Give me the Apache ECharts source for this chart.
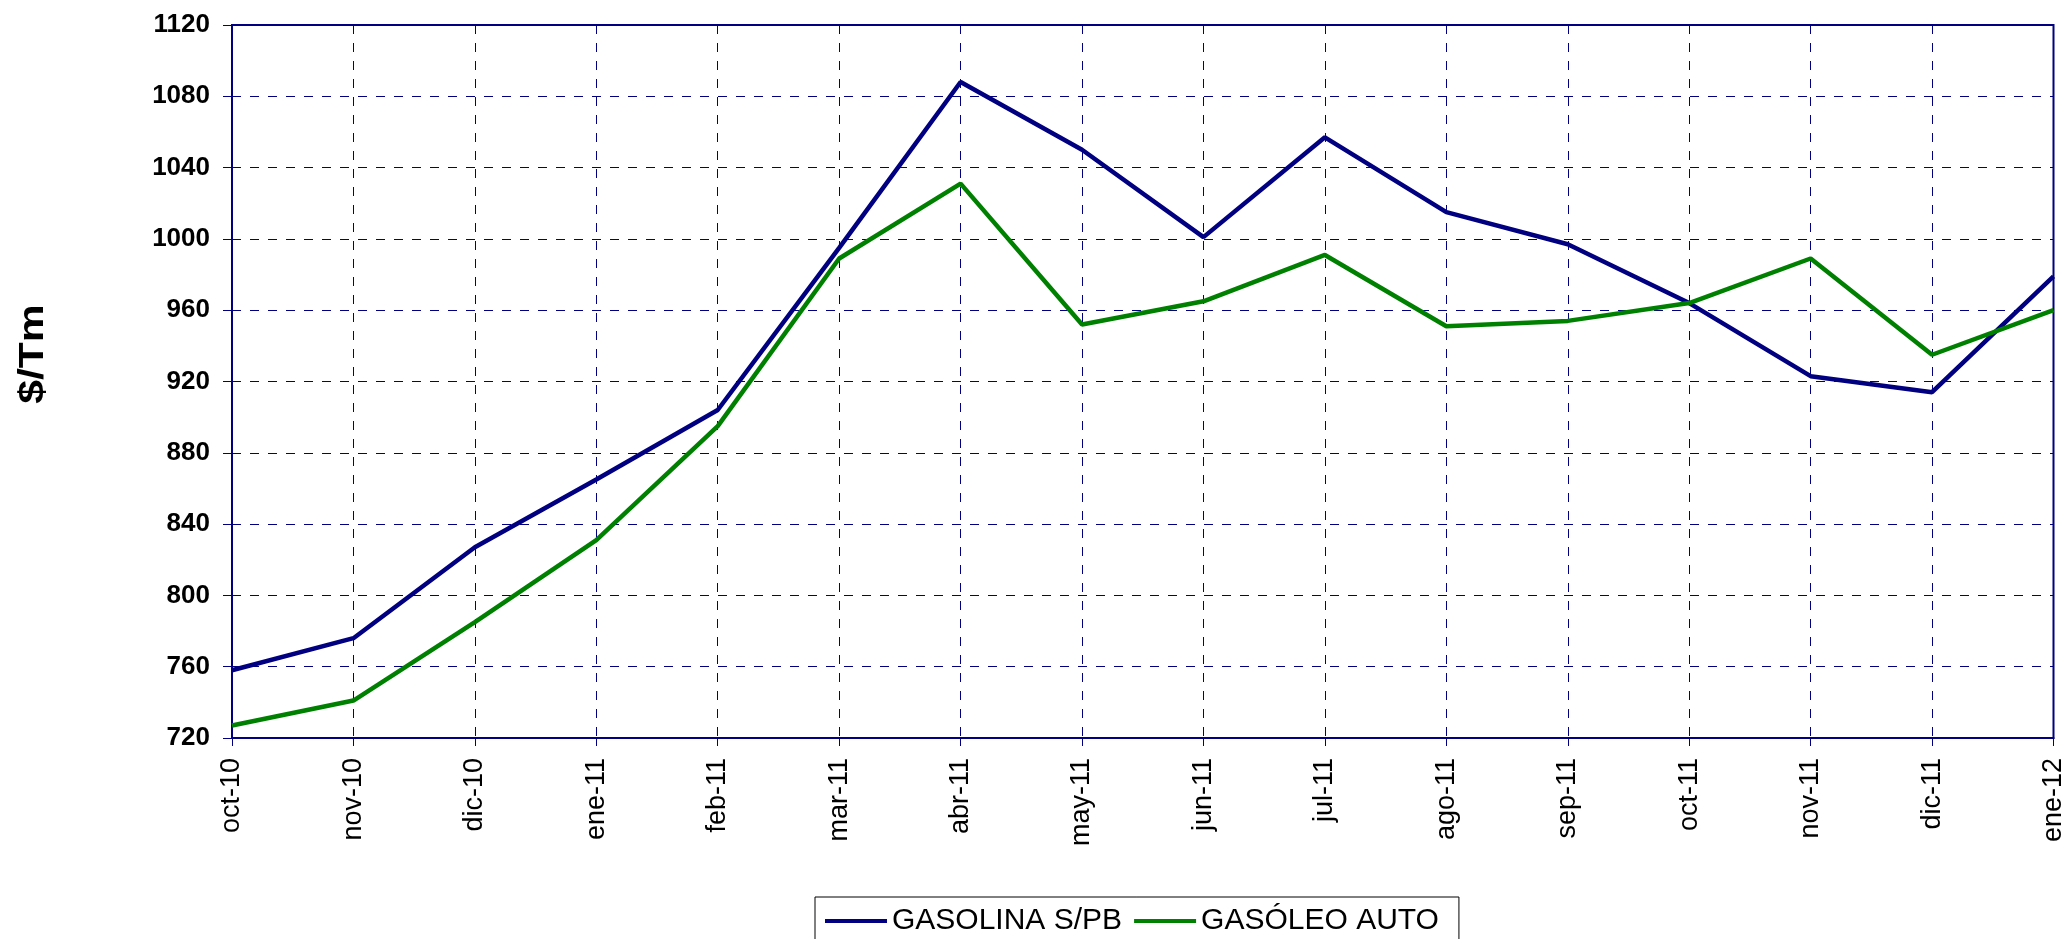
<!DOCTYPE html>
<html>
<head>
<meta charset="utf-8">
<style>
html,body{margin:0;padding:0;background:#fff;}
#chart{width:2067px;height:939px;}
</style>
<script src="https://cdn.jsdelivr.net/npm/echarts@6/dist/echarts.min.js"></script>
</head>
<body>
<div id="chart"></div>
<script>
const categories = ['oct-10','nov-10','dic-10','ene-11','feb-11','mar-11','abr-11','may-11','jun-11','jul-11','ago-11','sep-11','oct-11','nov-11','dic-11','ene-12'];
const gasolina = [758, 776, 827, 865, 904, 995, 1088, 1050, 1001, 1057, 1015, 997, 964, 923, 914, 979];
const gasoleo = [727, 741, 785, 831, 895, 989, 1031, 952, 965, 991, 951, 954, 964, 989, 935, 960];
const seriesNames = ['GASOLINA S/PB', 'GASÓLEO AUTO'];
const yTitle = '$/Tm';

const navy = '#000080';
const green = '#008000';
const chart = echarts.init(document.getElementById('chart'));
chart.setOption({
  animation: false,
  backgroundColor: '#ffffff',
  grid: {left: 232, right: 13, top: 25, bottom: 201, show: true, borderColor: navy, borderWidth: 2, backgroundColor: 'transparent'},
  graphic: [{
    type: 'text', x: 33, y: 354, rotation: Math.PI / 2, scaleX: 1.22,
    style: {text: yTitle, font: 'bold 35px "Liberation Sans", Arial, sans-serif', fill: '#000', align: 'center', verticalAlign: 'middle'}
  }],
  legend: {
    data: seriesNames,
    left: 815, top: 897,
    padding: [9, 20, 40, 10],
    itemGap: 12, itemWidth: 62, itemHeight: 4,
    icon: 'rect',
    borderColor: '#000', borderWidth: 1, backgroundColor: '#fff',
    textStyle: {fontFamily: '"Liberation Sans", Arial, sans-serif', fontSize: 30, color: '#000'}
  },
  xAxis: {
    type: 'category', data: categories, boundaryGap: false,
    axisLine: {lineStyle: {color: navy, width: 2}},
    axisTick: {show: true, length: 8, lineStyle: {color: navy, width: 1}},
    axisLabel: {rotate: 90, margin: 20, fontFamily: '"Liberation Sans", Arial, sans-serif', fontSize: 27, color: '#000', interval: 0},
    splitLine: {show: true, lineStyle: {color: navy, width: 1, type: [9, 9]}}
  },
  yAxis: {
    type: 'value', min: 720, max: 1120, interval: 40,
    axisLine: {show: true, lineStyle: {color: navy, width: 2}},
    axisTick: {show: true, length: 9, lineStyle: {color: navy, width: 1}},
    axisLabel: {margin: 22, fontFamily: '"Liberation Sans", Arial, sans-serif', fontWeight: 'bold', fontSize: 26, color: '#000', formatter: function (v) { return String(v); }},
    splitLine: {show: true, lineStyle: {color: navy, width: 1, type: [9, 9]}}
  },
  series: [
    {name: seriesNames[0], type: 'line', data: gasolina, symbol: 'none', lineStyle: {color: navy, width: 4.5}, itemStyle: {color: navy}},
    {name: seriesNames[1], type: 'line', data: gasoleo, symbol: 'none', lineStyle: {color: green, width: 4.5}, itemStyle: {color: green}}
  ]
});
</script>
</body>
</html>
